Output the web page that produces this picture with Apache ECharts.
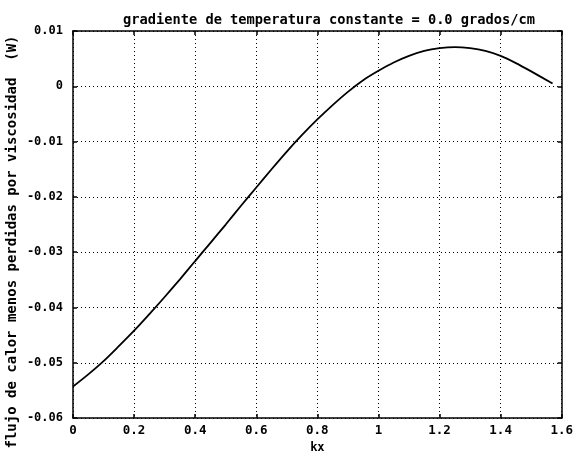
<!DOCTYPE html>
<html>
<head>
<meta charset="utf-8">
<script src="https://cdn.jsdelivr.net/npm/echarts@6/dist/echarts.min.js"></script>
<style>
html,body{margin:0;padding:0;background:#fff;}
#c{width:576px;height:459px;}
</style>
</head>
<body>
<div id="c"></div>
<script>
var kx = [0, 0.05, 0.1, 0.15, 0.2, 0.25, 0.3, 0.35, 0.4, 0.45, 0.5, 0.55, 0.6, 0.65, 0.7, 0.75, 0.8, 0.85, 0.9, 0.95, 1.0, 1.05, 1.1, 1.15, 1.2, 1.25, 1.3, 1.35, 1.4, 1.45, 1.5, 1.57];
var flujo = [-0.0543, -0.0521, -0.0497, -0.0470, -0.0442, -0.0412, -0.0381, -0.0349, -0.0316, -0.0283, -0.0250, -0.0216, -0.0183, -0.0150, -0.0118, -0.0088, -0.0060, -0.0034, -0.0010, 0.0011, 0.0028, 0.0043, 0.0055, 0.0064, 0.0069, 0.0071, 0.0069, 0.0064, 0.0055, 0.0042, 0.0027, 0.0005];
var xTickValues = [0, 0.2, 0.4, 0.6, 0.8, 1, 1.2, 1.4, 1.6];
var xTickLabels = ['0', '0.2', '0.4', '0.6', '0.8', '1', '1.2', '1.4', '1.6'];
var yTickValues = [-0.06, -0.05, -0.04, -0.03, -0.02, -0.01, 0, 0.01];
var yTickLabels = ['-0.06', '-0.05', '-0.04', '-0.03', '-0.02', '-0.01', '0', '0.01'];
var titleText = 'gradiente de temperatura constante = 0.0 grados/cm';
var xName = 'kx';
var yName = 'flujo de calor menos perdidas por viscosidad  (W)';

function lookup(vals, labels, v) {
  var best = 0, bd = Infinity;
  for (var i = 0; i < vals.length; i++) {
    var d = Math.abs(vals[i] - v);
    if (d < bd) { bd = d; best = i; }
  }
  return bd < 1e-6 ? labels[best] : '';
}

var FONT = 'DejaVu Sans Mono';
var chart = echarts.init(document.getElementById('c'), null, {renderer: 'canvas'});
var data = kx.map(function (x, i) { return [x, flujo[i]]; });

var baseX = {
  type: 'value', min: 0, max: 1.6, interval: 0.2,
  axisLine: {show: true, onZero: false, lineStyle: {color: '#000', width: 1.5}},
  axisTick: {show: true, inside: true, length: 4, lineStyle: {color: '#000', width: 1.5}}
};
var baseY = {
  type: 'value', min: -0.06, max: 0.01, interval: 0.01,
  axisLine: {show: true, onZero: false, lineStyle: {color: '#000', width: 1.5}},
  axisTick: {show: true, inside: true, length: 4, lineStyle: {color: '#000', width: 1.5}}
};

chart.setOption({
  backgroundColor: '#fff',
  animation: false,
  title: {
    text: titleText, left: 324, top: 8, textAlign: 'center',
    textStyle: {fontFamily: FONT, fontWeight: 'bold', fontSize: 13.7, color: '#000'}
  },
  grid: {left: 73, right: 13, top: 31, bottom: 34, show: false},
  xAxis: [
    Object.assign({}, baseX, {
      position: 'bottom',
      name: xName, nameLocation: 'middle', nameGap: 20,
      nameTextStyle: {fontFamily: FONT, fontWeight: 'bold', fontSize: 12, color: '#000'},
      axisLabel: {
        margin: 6, color: '#000', fontFamily: FONT, fontWeight: 'bold', fontSize: 12.5,
        formatter: function (v) { return lookup(xTickValues, xTickLabels, v); }
      },
      splitLine: {show: true, lineStyle: {color: '#000', type: [1, 3], width: 1}}
    }),
    Object.assign({}, baseX, {
      position: 'top', axisLabel: {show: false}, splitLine: {show: false}
    })
  ],
  yAxis: [
    Object.assign({}, baseY, {
      position: 'left',
      axisLabel: {
        margin: 10, color: '#000', fontFamily: FONT, fontWeight: 'bold', fontSize: 12,
        formatter: function (v) { return lookup(yTickValues, yTickLabels, v); }
      },
      splitLine: {show: true, lineStyle: {color: '#000', type: [1, 3], width: 1}}
    }),
    Object.assign({}, baseY, {
      position: 'right', axisLabel: {show: false}, splitLine: {show: false}
    })
  ],
  graphic: [{
    type: 'text',
    x: 12, y: 242,
    rotation: Math.PI / 2,
    style: {
      text: yName, fill: '#000',
      font: 'bold 14px "DejaVu Sans Mono"',
      textAlign: 'center', textVerticalAlign: 'middle'
    }
  }],
  series: [{
    type: 'line',
    xAxisIndex: 0, yAxisIndex: 0,
    data: data,
    smooth: 0.3,
    showSymbol: false,
    lineStyle: {color: '#000', width: 1.8}
  }]
});
</script>
</body>
</html>
